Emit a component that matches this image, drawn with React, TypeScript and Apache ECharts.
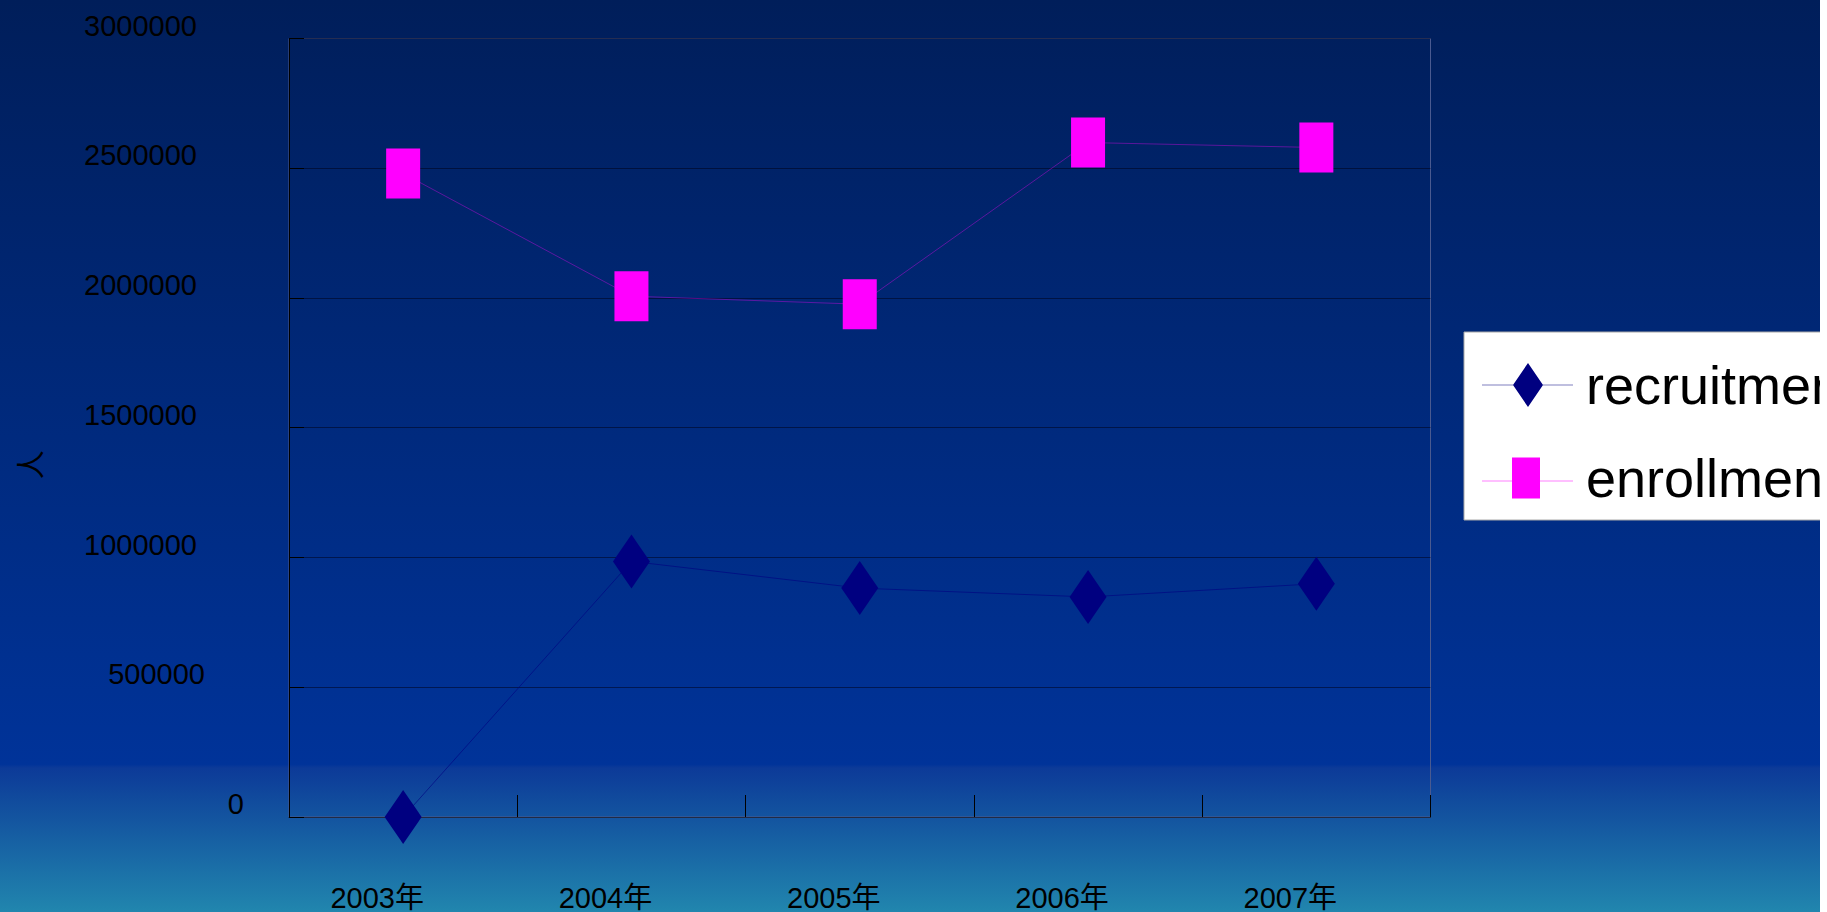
import React, { useEffect, useRef } from "react";
import * as echarts from "echarts";

const categories = ["2003年", "2004年", "2005年", "2006年", "2007年"];
const recruitment = [0, 985000, 882000, 848000, 899000];
const enrollment = [2480000, 2007000, 1976000, 2599000, 2580000];
const seriesNames = ["recruitment", "enrollment"];
const yAxisName = "人";

const FONT = "'Liberation Sans', Arial, 'Noto Sans CJK SC', sans-serif";

export default function App() {
  const ref = useRef<HTMLDivElement>(null);
  useEffect(() => {
    if (!ref.current) return;
    const chart = echarts.init(ref.current, null, { renderer: "svg" });
    chart.setOption({
      animation: false,
      backgroundColor: {
        type: "linear",
        x: 0,
        y: 0,
        x2: 0,
        y2: 1,
        colorStops: [
          { offset: 0, color: "#001e5a" },
          { offset: 0.838, color: "#003399" },
          { offset: 0.842, color: "#0c3a98" },
          { offset: 1, color: "#2186ae" },
        ],
      },
      textStyle: { fontFamily: FONT },
      grid: {
        left: 289,
        top: 38.5,
        width: 1141.5,
        height: 779,
        show: true,
        backgroundColor: "transparent",
        borderColor: "#4a5a90",
        borderWidth: 1,
      },
      legend: {
        orient: "vertical",
        left: 1464,
        top: 332,
        backgroundColor: "#ffffff",
        borderColor: "#a8a8a8",
        borderWidth: 1,
        borderRadius: 0,
        padding: [25, 300, 14, 18],
        itemGap: 37,
        itemWidth: 91,
        itemHeight: 44,
        textStyle: {
          color: "#000000",
          fontSize: 54,
          lineHeight: 56,
          fontFamily: FONT,
          padding: [0, 0, 0, 8],
        },
        itemStyle: { borderWidth: 0 },
        data: [
          {
            name: seriesNames[0],
            icon: "path://M0,21.8h91v0.4h-91z M46,0 L61,22 L46,44 L31,22 Z",
          },
          {
            name: seriesNames[1],
            icon: "path://M0,23.3h91v0.4h-91z M30,0 h28 v41 h-28 Z",
          },
        ],
      },
      xAxis: {
        type: "category",
        data: categories,
        boundaryGap: true,
        axisLine: { show: true, lineStyle: { color: "#222a44", width: 1 } },
        axisTick: {
          show: true,
          inside: true,
          length: 22,
          lineStyle: { color: "#000000", width: 1 },
        },
        axisLabel: {
          interval: 0,
          color: "#000000",
          fontSize: 29,
          fontFamily: FONT,
          margin: 66,
          padding: [0, 52, 0, 0],
        },
        splitLine: { show: false },
      },
      yAxis: {
        type: "value",
        min: 0,
        max: 3000000,
        interval: 500000,
        name: yAxisName,
        nameLocation: "middle",
        nameGap: 243,
        nameTextStyle: {
          color: "#000000",
          fontSize: 29,
          fontFamily: FONT,
          padding: [0, 74, 0, 0],
        },
        axisLine: { show: true, lineStyle: { color: "#000000", width: 1 } },
        axisTick: {
          show: true,
          inside: true,
          length: 15,
          lineStyle: { color: "#000000", width: 1 },
        },
        splitLine: {
          show: true,
          lineStyle: { color: "rgba(0,0,20,0.5)", width: 1 },
        },
        axisLabel: {
          color: "#000000",
          fontSize: 29,
          fontFamily: FONT,
          margin: 45,
          formatter: (v: number) =>
            v === 0 ? `{c|${v}}` : v === 500000 ? `{b|${v}}` : `{a|${v}}`,
          rich: {
            a: { fontSize: 29, fontFamily: FONT, color: "#000", padding: [0, 47, 26, 0] },
            b: { fontSize: 29, fontFamily: FONT, color: "#000", padding: [0, 39, 26, 0] },
            c: { fontSize: 29, fontFamily: FONT, color: "#000", padding: [0, 0, 26, 0] },
          },
        },
      },
      series: [
        {
          name: seriesNames[0],
          type: "line",
          data: recruitment,
          color: "#000080",
          symbol: "diamond",
          symbolSize: [37, 54],
          showSymbol: true,
          lineStyle: { color: "rgba(0,0,128,0.6)", width: 1 },
          itemStyle: { color: "#000080", borderWidth: 0 },
          z: 3,
        },
        {
          name: seriesNames[1],
          type: "line",
          data: enrollment,
          color: "#ff00ff",
          symbol: "rect",
          symbolSize: [34, 50],
          showSymbol: true,
          lineStyle: { color: "rgba(255,0,255,0.35)", width: 1 },
          itemStyle: { color: "#ff00ff", borderWidth: 0 },
          z: 3,
        },
      ],
    });
    return () => chart.dispose();
  }, []);
  return (
    <div
      ref={ref}
      style={{ position: "absolute", left: 0, top: 0, width: 1820, height: 912, overflow: "hidden" }}
    />
  );
}
